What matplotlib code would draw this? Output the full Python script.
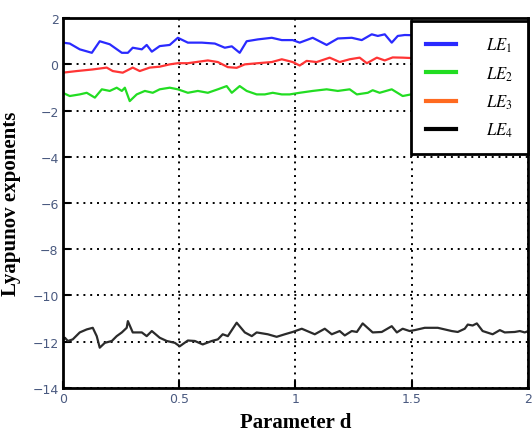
import matplotlib
matplotlib.use("Agg")
import matplotlib.pyplot as plt
from matplotlib.lines import Line2D

# LE1 (blue)
d1 = [0, 0.03, 0.073, 0.125, 0.159, 0.202, 0.254, 0.28, 0.301, 0.34, 0.361, 0.383, 0.417, 0.46, 0.495,
      0.538, 0.598, 0.654, 0.697, 0.727, 0.761, 0.791, 0.839, 0.899, 0.942, 0.989,
      1.019, 1.075, 1.135, 1.183, 1.243, 1.286, 1.329, 1.355, 1.385, 1.415, 1.441, 1.471,
      1.55, 1.65, 1.75, 1.85, 1.95, 2.0]
le1 = [0.94, 0.9, 0.65, 0.5, 1.0, 0.87, 0.5, 0.5, 0.72, 0.65, 0.84, 0.55, 0.79, 0.84, 1.15,
       0.94, 0.94, 0.9, 0.72, 0.78, 0.5, 1.0, 1.08, 1.15, 1.05, 1.05,
       0.94, 1.15, 0.84, 1.12, 1.15, 1.05, 1.3, 1.23, 1.3, 0.94, 1.23, 1.27,
       1.25, 1.3, 1.2, 1.3, 1.25, 1.3]

# LE2 (green)
d2 = [0, 0.03, 0.073, 0.103, 0.138, 0.168, 0.202, 0.232, 0.254, 0.267, 0.288, 0.318, 0.353, 0.387,
      0.417, 0.46, 0.495, 0.538, 0.581, 0.624, 0.667, 0.705, 0.727, 0.761, 0.791, 0.834, 0.869,
      0.903, 0.942, 0.976, 1.019, 1.075, 1.135, 1.183, 1.234, 1.265, 1.312, 1.333, 1.363, 1.415, 1.462,
      1.55, 1.65, 1.75, 1.85, 1.95, 2.0]
le2 = [-1.23, -1.37, -1.3, -1.23, -1.44, -1.08, -1.15, -1.01, -1.15, -1.01, -1.59, -1.3, -1.15, -1.23,
       -1.08, -1.01, -1.08, -1.23, -1.15, -1.23, -1.08, -0.94, -1.23, -0.94, -1.15, -1.3, -1.3,
       -1.23, -1.3, -1.3, -1.23, -1.15, -1.08, -1.15, -1.08, -1.3, -1.23, -1.12, -1.23, -1.08, -1.37,
       -1.2, -1.3, -1.15, -1.25, -1.2, -1.25]

# LE3 (red)
d3 = [0, 0.06, 0.129, 0.189, 0.215, 0.258, 0.301, 0.331, 0.374, 0.417, 0.46, 0.495,
      0.538, 0.624, 0.667, 0.71, 0.748, 0.783, 0.839, 0.899, 0.942, 0.989,
      1.019, 1.049, 1.092, 1.148, 1.191, 1.234, 1.277, 1.308, 1.351, 1.385, 1.419, 1.462,
      1.55, 1.65, 1.75, 1.85, 1.95, 2.0]
le3 = [-0.36, -0.29, -0.22, -0.14, -0.29, -0.36, -0.14, -0.29, -0.14, -0.1, 0.0, 0.05,
       0.05, 0.17, 0.1, -0.12, -0.15, 0.0, 0.05, 0.1, 0.22, 0.1,
       -0.05, 0.15, 0.1, 0.29, 0.1, 0.22, 0.29, 0.05, 0.29, 0.17, 0.3, 0.29,
       0.25, 0.3, 0.2, 0.3, 0.25, 0.3]

# LE4 (black)
d4 = [0, 0.009, 0.022, 0.043, 0.073, 0.103, 0.129, 0.146, 0.159, 0.181, 0.211, 0.232, 0.254, 0.275,
      0.28, 0.301, 0.34, 0.361, 0.383, 0.417, 0.447, 0.482, 0.503, 0.538, 0.568, 0.602, 0.641,
      0.667, 0.688, 0.71, 0.748, 0.783, 0.813, 0.834, 0.882, 0.92, 0.955, 0.989, 1.028, 1.084,
      1.127, 1.157, 1.191, 1.213, 1.243, 1.265, 1.29, 1.333, 1.372, 1.415, 1.437, 1.462, 1.492,
      1.514, 1.557, 1.613, 1.673, 1.699, 1.729, 1.742, 1.763, 1.781, 1.806, 1.849, 1.88, 1.901,
      1.944, 1.966, 1.987, 2.0]
le4 = [-11.95, -11.83, -11.97, -11.9, -11.6, -11.47, -11.4, -11.76, -12.26, -12.05, -11.97, -11.76,
       -11.6, -11.4, -11.11, -11.6, -11.6, -11.76, -11.54, -11.83, -11.97, -12.05, -12.2, -11.95,
       -11.97, -12.12, -11.97, -11.9, -11.68, -11.76, -11.18, -11.6, -11.76, -11.6, -11.68, -11.79,
       -11.68, -11.58, -11.44, -11.68, -11.44, -11.68, -11.54, -11.73, -11.54, -11.58, -11.21, -11.6,
       -11.58, -11.33, -11.6, -11.44, -11.54, -11.5, -11.4, -11.4, -11.54, -11.58, -11.44, -11.26,
       -11.3, -11.21, -11.54, -11.68, -11.5, -11.6, -11.58, -11.54, -11.6, -11.55]

xticks = [0, 0.5, 1, 1.5, 2]
xticklabels = ["0", "0.5", "1", "1.5", "2"]
yticks = [-14, -12, -10, -8, -6, -4, -2, 0, 2]

plt.rcParams['mathtext.fontset'] = 'stix'

fig = plt.figure(figsize=(5.32, 4.35), dpi=100)
ax = fig.add_axes([0.118, 0.106, 0.874, 0.85])

ax.plot(d1, le1, color='#2a2aff', lw=1.6)
ax.plot(d2, le2, color='#22dd22', lw=1.6)
ax.plot(d3, le3, color='#ff3535', lw=1.6)
ax.plot(d4, le4, color='#2b2b2b', lw=1.6)

ax.set_xlim(0, 2)
ax.set_ylim(-14, 2)
ax.set_xticks(xticks)
ax.set_xticklabels(xticklabels)
ax.set_yticks(yticks)
ax.tick_params(direction='in', length=5, width=1.5, labelsize=9, labelcolor='#4a5a80', pad=3)
ax.grid(True, color='black', linestyle=(0, (1, 2.5)), linewidth=1.4)
for s in ax.spines.values():
    s.set_linewidth(2)

ax.set_xlabel("Parameter d", fontsize=15, fontweight='bold', family='Liberation Serif', labelpad=5)
ax.set_ylabel("Lyapunov exponents", fontsize=15, fontweight='bold', family='Liberation Serif', labelpad=8)

handles = [Line2D([], [], color='#2a2aff', lw=3), Line2D([], [], color='#22dd22', lw=3),
           Line2D([], [], color='#ff6a20', lw=3), Line2D([], [], color='black', lw=3)]
labels = ["$LE_1$", "$LE_2$", "$LE_3$", "$LE_4$"]
leg = ax.legend(handles, labels, loc='upper right', bbox_to_anchor=(1.0, 0.993), fontsize=12,
                fancybox=False, framealpha=1, edgecolor='black', handlelength=1.8,
                handletextpad=1.8, labelspacing=0.6, borderpad=0.9, borderaxespad=0.0)
leg.get_frame().set_linewidth(2)

fig.savefig("out.png", dpi=100)
